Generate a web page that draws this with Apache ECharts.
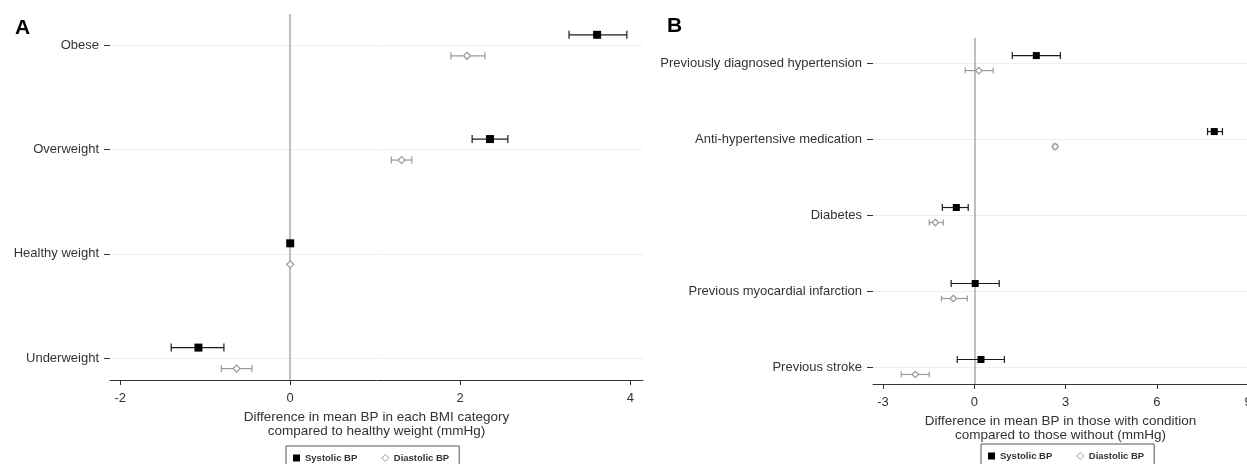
<!DOCTYPE html>
<html>
<head>
<meta charset="utf-8">
<script src="https://cdn.jsdelivr.net/npm/echarts@6/dist/echarts.min.js"></script>
<style>
  html, body { margin: 0; padding: 0; background: #fff; }
  #chart { width: 1247px; height: 464px; }
</style>
</head>
<body>
<div id="chart"></div>
<script>
// panel A: BMI categories, bottom to top
const bmiCategories = ['Underweight', 'Healthy weight', 'Overweight', 'Obese'];
const bmiSys     = [-1.08, 0, 2.35, 3.61];
const bmiSysLow  = [-1.40, 0, 2.14, 3.28];
const bmiSysHigh = [-0.78, 0, 2.56, 3.96];
const bmiDia     = [-0.63, 0, 1.31, 2.08];
const bmiDiaLow  = [-0.81, 0, 1.19, 1.89];
const bmiDiaHigh = [-0.45, 0, 1.43, 2.29];
const bmiTicks = [-2, 0, 2, 4];

// panel B: conditions, bottom to top
const condCategories = ['Previous stroke', 'Previous myocardial infarction', 'Diabetes',
  'Anti-hypertensive medication', 'Previously diagnosed hypertension'];
const condSys     = [0.22, 0.03, -0.59, 7.89, 2.04];
const condSysLow  = [-0.56, -0.76, -1.05, 7.67, 1.25];
const condSysHigh = [0.99, 0.82, -0.20, 8.16, 2.83];
const condDia     = [-1.94, -0.69, -1.28, 2.66, 0.15];
const condDiaLow  = [-2.40, -1.08, -1.48, 2.60, -0.30];
const condDiaHigh = [-1.48, -0.23, -1.02, 2.72, 0.62];
const condTicks = [-3, 0, 3, 6, 9];

const FONT = '"Liberation Sans", Arial, sans-serif';

function rows(v, lo, hi) {
  return v.map((x, i) => [x, lo[i], hi[i], i]);
}

// error bar + marker, dy shifts systolic up / diastolic down
function makeRender(kind, dy, size, cap) {
  return function (params, api) {
    const y = api.value(3);
    const p = api.coord([api.value(0), y]);
    const lo = api.coord([api.value(1), y]);
    const hi = api.coord([api.value(2), y]);
    const cy = p[1] + dy;
    const col = kind === 'sys' ? '#1a1a1a' : '#999';
    const children = [];
    if (hi[0] - lo[0] > 0.5) {
      const st = { stroke: col, lineWidth: 1.2 };
      children.push({ type: 'line', shape: { x1: lo[0], y1: cy, x2: hi[0], y2: cy }, style: st });
      children.push({ type: 'line', shape: { x1: lo[0], y1: cy - cap / 2, x2: lo[0], y2: cy + cap / 2 }, style: st });
      children.push({ type: 'line', shape: { x1: hi[0], y1: cy - cap / 2, x2: hi[0], y2: cy + cap / 2 }, style: st });
    }
    if (kind === 'sys') {
      children.push({ type: 'rect', shape: { x: p[0] - size / 2, y: cy - size / 2, width: size, height: size },
        style: { fill: '#000' } });
    } else {
      const s = size / 2;
      children.push({ type: 'polygon',
        shape: { points: [[p[0], cy - s], [p[0] + s, cy], [p[0], cy + s], [p[0] - s, cy]] },
        style: { fill: '#fff', stroke: col, lineWidth: 1.2 } });
    }
    return { type: 'group', children: children };
  };
}

function guideLines(n) {
  const d = [];
  for (let i = 0; i < n; i++) d.push({ yAxis: i, lineStyle: { color: '#e6f2f1', width: 1, type: 'solid' } });
  d.push({ xAxis: 0, lineStyle: { color: '#aaaaaa', width: 1.5, type: 'solid' } });
  return { silent: true, symbol: 'none', z: 1, label: { show: false }, data: d };
}

function xAxisFor(idx, min, max, ticks, name) {
  return {
    type: 'value', gridIndex: idx, min: min, max: max,
    axisLine: { show: true, onZero: false, lineStyle: { color: '#333', width: 1 } },
    axisTick: { show: true, length: 5, customValues: ticks, lineStyle: { color: '#333' } },
    axisLabel: { customValues: ticks, margin: 12, color: '#333', fontSize: 13, fontFamily: FONT },
    splitLine: { show: false },
    name: name, nameLocation: 'middle', nameGap: 22,
    nameTextStyle: { color: '#333', fontSize: 13.5, fontFamily: FONT, lineHeight: 14, verticalAlign: 'top' }
  };
}

function yAxisFor(idx, min, max, cats) {
  const vals = cats.map((c, i) => i);
  return {
    type: 'value', gridIndex: idx, min: min, max: max,
    axisLine: { show: false, onZero: false },
    axisTick: { show: true, length: 6, customValues: vals, lineStyle: { color: '#333' } },
    axisLabel: { customValues: vals, formatter: v => cats[v], margin: 11,
      color: '#333', fontSize: 13, fontFamily: FONT },
    splitLine: { show: false }
  };
}

const legendData = [
  { name: 'Systolic BP', icon: 'rect', itemStyle: { color: '#000' } },
  { name: 'Diastolic BP', icon: 'diamond', itemStyle: { color: '#fff', borderColor: '#999', borderWidth: 1 } }
];
function legendAt(left, top) {
  return {
    left: left, top: top, data: legendData, itemWidth: 7, itemHeight: 7, itemGap: 24,
    padding: [7, 10, 7, 7], borderColor: '#555', borderWidth: 1, backgroundColor: '#fff',
    selectedMode: false,
    textStyle: { fontSize: 9.5, fontWeight: 'bold', color: '#333', fontFamily: FONT }
  };
}

const option = {
  animation: false,
  backgroundColor: '#fff',
  title: [
    { text: 'A', left: 10, top: 13, textStyle: { fontSize: 21, fontWeight: 'bold', color: '#000', fontFamily: FONT } },
    { text: 'B', left: 662, top: 11, textStyle: { fontSize: 21, fontWeight: 'bold', color: '#000', fontFamily: FONT } }
  ],
  legend: [legendAt(286, 446), legendAt(981, 444)],
  grid: [
    { left: 110, top: 14, width: 533, height: 366, outerBoundsMode: 'none' },
    { left: 873, top: 38, width: 375, height: 346, outerBoundsMode: 'none' }
  ],
  xAxis: [
    xAxisFor(0, -2.12, 4.15, bmiTicks, 'Difference in mean BP in each BMI category\ncompared to healthy weight (mmHg)'),
    xAxisFor(1, -3.33, 9.0, condTicks, 'Difference in mean BP in those with condition\ncompared to those without (mmHg)')
  ],
  yAxis: [
    yAxisFor(0, -0.21, 3.30, bmiCategories),
    yAxisFor(1, -0.224, 4.33, condCategories)
  ],
  series: [
    { type: 'custom', name: 'Diastolic BP', xAxisIndex: 0, yAxisIndex: 0, z: 2,
      renderItem: makeRender('dia', 10.5, 7, 7), encode: { x: [0, 1, 2], y: 3 },
      data: rows(bmiDia, bmiDiaLow, bmiDiaHigh), markLine: guideLines(bmiCategories.length) },
    { type: 'custom', name: 'Systolic BP', xAxisIndex: 0, yAxisIndex: 0, z: 3,
      renderItem: makeRender('sys', -10.5, 8, 8), encode: { x: [0, 1, 2], y: 3 },
      data: rows(bmiSys, bmiSysLow, bmiSysHigh) },
    { type: 'custom', name: 'Diastolic BP', xAxisIndex: 1, yAxisIndex: 1, z: 2,
      renderItem: makeRender('dia', 7.5, 6.5, 6), encode: { x: [0, 1, 2], y: 3 },
      data: rows(condDia, condDiaLow, condDiaHigh), markLine: guideLines(condCategories.length) },
    { type: 'custom', name: 'Systolic BP', xAxisIndex: 1, yAxisIndex: 1, z: 3,
      renderItem: makeRender('sys', -7.5, 7, 7), encode: { x: [0, 1, 2], y: 3 },
      data: rows(condSys, condSysLow, condSysHigh) }
  ]
};

const myChart = echarts.init(document.getElementById('chart'));
myChart.setOption(option);
</script>
</body>
</html>
